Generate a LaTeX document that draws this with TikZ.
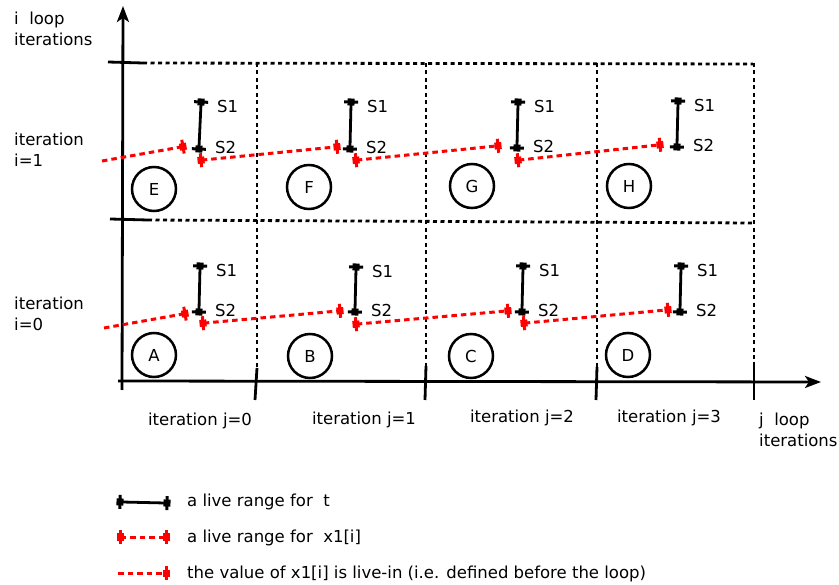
\documentclass[tikz,border=0pt]{standalone}
\usepackage{fontspec}
\setmainfont{DejaVu Sans}
\usetikzlibrary{arrows.meta}
\tikzset{
  rtip/.tip={Square[length=7pt,width=7pt,sep=-5pt] Bar[width=14pt,line width=3pt]},
  axis/.style={line width=2.8pt, -{Stealth[length=16pt,width=12pt,inset=4pt]}},
  gridline/.style={line width=2.8pt, dash pattern=on 4pt off 3.5pt},
  tickline/.style={line width=2.8pt},
  tlive/.style={line width=2.8pt, shorten <=-3.5pt, shorten >=-3.5pt, {rtip}-{rtip}},
  xlive/.style={red, line width=3pt, dash pattern=on 5.5pt off 4pt, shorten <=-3.5pt, shorten >=-3.5pt, {rtip}-{rtip}},
  xlivein/.style={red, line width=3pt, dash pattern=on 5.5pt off 4pt, shorten >=-3.5pt, -{rtip}},
  cell/.style={circle, draw, line width=2.5pt, minimum size=44pt, inner sep=0pt},
  txt/.style={inner sep=0pt, anchor=base west, align=left},
  slabel/.style={inner sep=0pt, anchor=base west},
}
\begin{document}
\begin{tikzpicture}[x=1pt, y=-1pt, font=\fontsize{16.5}{21}\selectfont]
  \useasboundingbox (0,0) rectangle (839,585);

  % axes
  \coordinate (o) at (122,390);
  \coordinate (ytop) at (123,6);
  \coordinate (xo) at (118,381);
  \coordinate (xend) at (821,382);
  \draw[axis] (o) -- (ytop);
  \draw[axis] (xo) -- (xend);

  % grid
  \draw[tickline] (108,62) -- (143,63);
  \draw[gridline] (143,63) -- (753,64);
  \draw[tickline] (110,219) -- (148,220);
  \draw[gridline] (148,220) -- (753,223);
  \foreach \x/\yb/\b in {257/368/255, 426/366/425, 597/367/596, 754/362/754} {
    \draw[gridline] (\x,63) -- (\x,\yb);
    \draw[tickline] (\x,\yb) -- (\b,400);
  }

  % cells with S1/S2
  \foreach \nm/\cx/\cy/\ax/\ay/\bx/\by in {
      E/154/189/201/104/199/147, F/309/187/351/104/350/147,
      G/472/186/518/104/517/146, H/629/186/678/103/677/145,
      A/154/355/200/268/199/310, B/310/356/356/269/355/310,
      C/471/356/523/268/522/310, D/628/355/681/268/680/310} {
    \node[cell] (\nm) at (\cx,\cy) {\nm};
    \coordinate (\nm1) at (\ax,\ay);
    \coordinate (\nm2) at (\bx,\by);
    \draw[tlive] (\nm1) -- (\nm2);
    \node[slabel] (\nm s1) at ([xshift=16pt,yshift=-9pt]\nm1) {S1};
    \node[slabel] (\nm s2) at ([xshift=16pt,yshift=-7pt]\nm2) {S2};
  }

  % x1[i] ranges, row i=1
  \coordinate (in1) at (102,161);
  \coordinate (in1e) at (181,147);
  \draw[xlivein] (in1) -- (in1e);
  \foreach \i/\ax/\ay/\bx/\by in {1/203/160/335/147, 2/358/160/496/146, 3/520/160/658/145} {
    \coordinate (ra\i) at (\ax,\ay);
    \coordinate (rb\i) at (\bx,\by);
    \draw[xlive] (ra\i) -- (rb\i);
  }
  % x1[i] ranges, row i=0
  \coordinate (in0) at (104,328);
  \coordinate (in0e) at (183,314);
  \draw[xlivein] (in0) -- (in0e);
  \foreach \i/\ax/\ay/\bx/\by in {1/205/323/338/311, 2/358/324/506/311, 3/526/323/666/310} {
    \coordinate (qa\i) at (\ax,\ay);
    \coordinate (qb\i) at (\bx,\by);
    \draw[xlive] (qa\i) -- (qb\i);
  }

  % axis labels
  \node[txt] (iloop) at (14,46) {i\ \ loop\\iterations};
  \node[txt] (irow1) at (14,167) {iteration\\i=1};
  \node[txt] (irow0) at (14,331) {iteration\\i=0};
  \node[txt] (jloop) at (759,447) {j\ \ loop\\iterations};
  \foreach \j/\x/\y in {0/200/426, 1/364/425, 2/522/423, 3/669/423}
    \node[inner sep=0pt, anchor=base] (jcol\j) at (\x,\y) {iteration j=\j};

  % legend
  \coordinate (la) at (122,502);
  \coordinate (lb) at (165,503);
  \draw[tlive] (la) -- (lb);
  \coordinate (lc) at (122,537);
  \coordinate (ld) at (164,537);
  \draw[xlive] (lc) -- (ld);
  \coordinate (le) at (118,573);
  \coordinate (lf) at (164,573);
  \draw[xlivein] (le) -- (lf);
  \node[slabel] (leg1) at (187,507) {a live range for\ \ t};
  \node[slabel] (leg2) at (187,542) {a live range for\ \ x1[i]};
  \node[slabel] (leg3) at (187,578) {the value of x1[i] is live-in (i.e. defined before the loop)};
\end{tikzpicture}
\end{document}
